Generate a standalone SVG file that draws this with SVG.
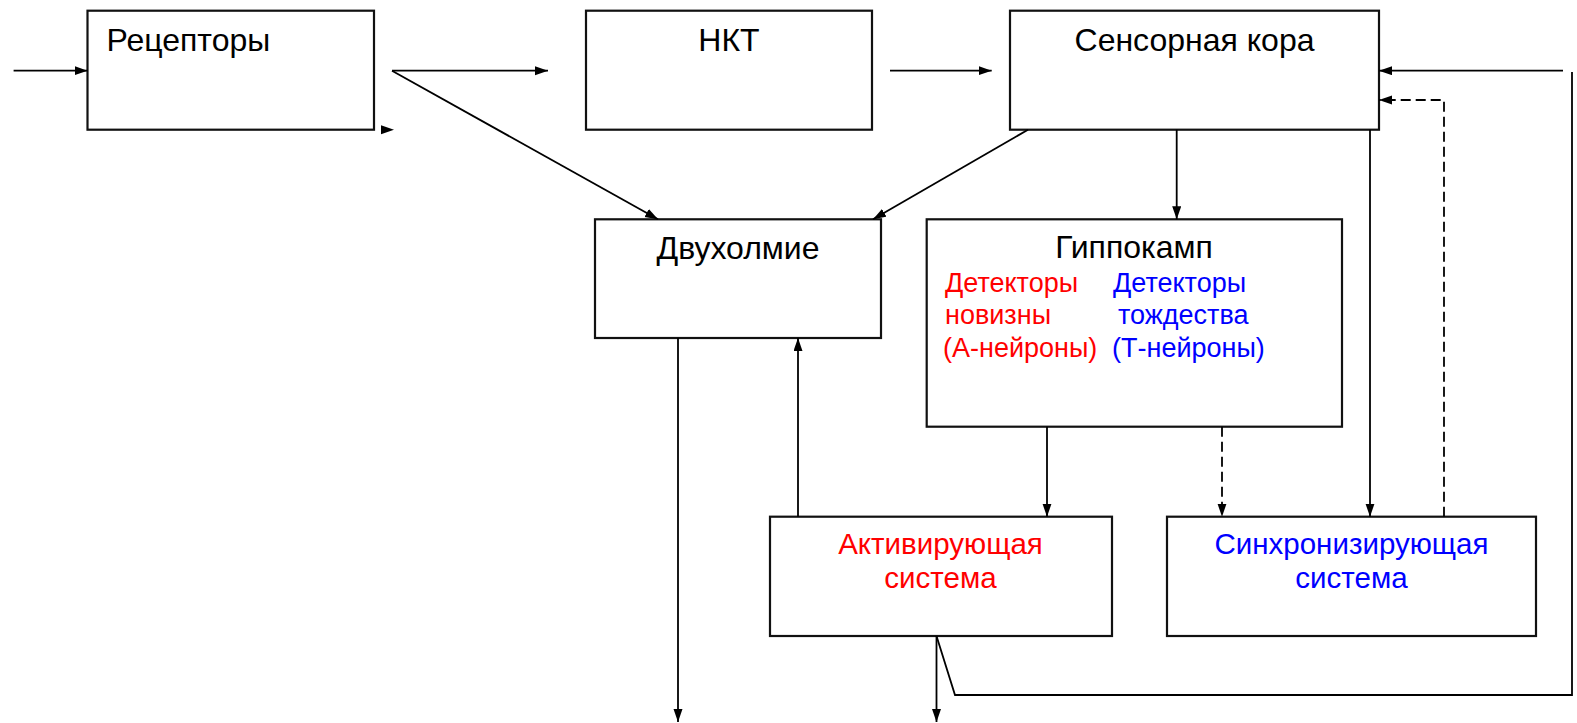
<svg xmlns="http://www.w3.org/2000/svg" width="1577" height="723" viewBox="0 0 1577 723">
<style>
.box{fill:#fff;stroke:#111;stroke-width:2.2}
.c{fill:none;stroke:#000;stroke-width:1.8}
.d{stroke-dasharray:10 5}
.t{font-family:"Liberation Sans",Arial,sans-serif;font-size:32px;fill:#000}
.u{font-size:29.5px}
.s{font-family:"Liberation Sans",Arial,sans-serif;font-size:27px}
.red{fill:#ff0000}
.blue{fill:#0000ff}
.m{text-anchor:middle}
</style>
<defs>
<marker id="ah" markerUnits="userSpaceOnUse" markerWidth="14" markerHeight="10" refX="13" refY="4.5" orient="auto">
<path d="M0,0 L13,4.5 L0,9 z" fill="#000"/>
</marker>
</defs>
<g id="receptors">
<rect class="box" x="87.5" y="10.7" width="286.5" height="119"/>
<text class="t" x="106.5" y="50.7">Рецепторы</text>
</g>
<g id="nkt">
<rect class="box" x="586" y="10.7" width="286" height="119"/>
<text class="t m" x="729" y="50.7">НКТ</text>
</g>
<g id="sensory">
<rect class="box" x="1010" y="10.7" width="369" height="119"/>
<text class="t m" x="1194.5" y="50.7">Сенсорная кора</text>
</g>
<g id="colliculi">
<rect class="box" x="595" y="219.3" width="286" height="118.7"/>
<text class="t m" x="738" y="259">Двухолмие</text>
</g>
<g id="hippocampus">
<rect class="box" x="926.7" y="219.3" width="415.3" height="207.4"/>
<text class="t m" x="1134" y="258">Гиппокамп</text>
<text class="s red" x="945" y="291.7">Детекторы</text>
<text class="s red" x="945" y="324.3">новизны</text>
<text class="s red" x="943" y="356.7">(А-нейроны)</text>
<text class="s blue" x="1113" y="291.7">Детекторы</text>
<text class="s blue" x="1118" y="324.3">тождества</text>
<text class="s blue" x="1112" y="356.7">(Т-нейроны)</text>
</g>
<g id="activating">
<rect class="box" x="770" y="516.7" width="342" height="119.3"/>
<text class="t u m red" x="940.5" y="554">Активирующая</text>
<text class="t u m red" x="940.5" y="588">система</text>
</g>
<g id="synchronizing">
<rect class="box" x="1167" y="516.7" width="369" height="119.3"/>
<text class="t u m blue" x="1351.5" y="554">Синхронизирующая</text>
<text class="t u m blue" x="1351.5" y="588">система</text>
</g>
<g id="connectors">
<line class="c" x1="13.6" y1="70.7" x2="87.5" y2="70.7" marker-end="url(#ah)"/>
<path d="M381,125.2 L394,129.7 L381,134.2 z" fill="#000"/>
<line class="c" x1="392" y1="70.7" x2="548" y2="70.7" marker-end="url(#ah)"/>
<line class="c" x1="392" y1="70.7" x2="658" y2="219.3" marker-end="url(#ah)"/>
<line class="c" x1="890" y1="70.7" x2="991.7" y2="70.7" marker-end="url(#ah)"/>
<line class="c" x1="1028" y1="129.7" x2="873" y2="219.3" marker-end="url(#ah)"/>
<line class="c" x1="1176.7" y1="129.7" x2="1176.7" y2="219.3" marker-end="url(#ah)"/>
<line class="c" x1="1370" y1="129.7" x2="1370" y2="516.7" marker-end="url(#ah)"/>
<line class="c" x1="1563" y1="70.7" x2="1379" y2="70.7" marker-end="url(#ah)"/>
<polyline class="c" points="1572,72 1572,695 955,695 936.5,636"/>
<line class="c" x1="936.5" y1="636" x2="936.5" y2="722" marker-end="url(#ah)"/>
<polyline class="c d" points="1444,516.7 1444,100 1379,100" marker-end="url(#ah)"/>
<line class="c" x1="1047" y1="426.7" x2="1047" y2="516.7" marker-end="url(#ah)"/>
<line class="c d" x1="1222" y1="426.7" x2="1222" y2="516.7" marker-end="url(#ah)"/>
<line class="c" x1="798" y1="516.7" x2="798" y2="338" marker-end="url(#ah)"/>
<line class="c" x1="678" y1="338" x2="678" y2="722" marker-end="url(#ah)"/>
</g>
</svg>
